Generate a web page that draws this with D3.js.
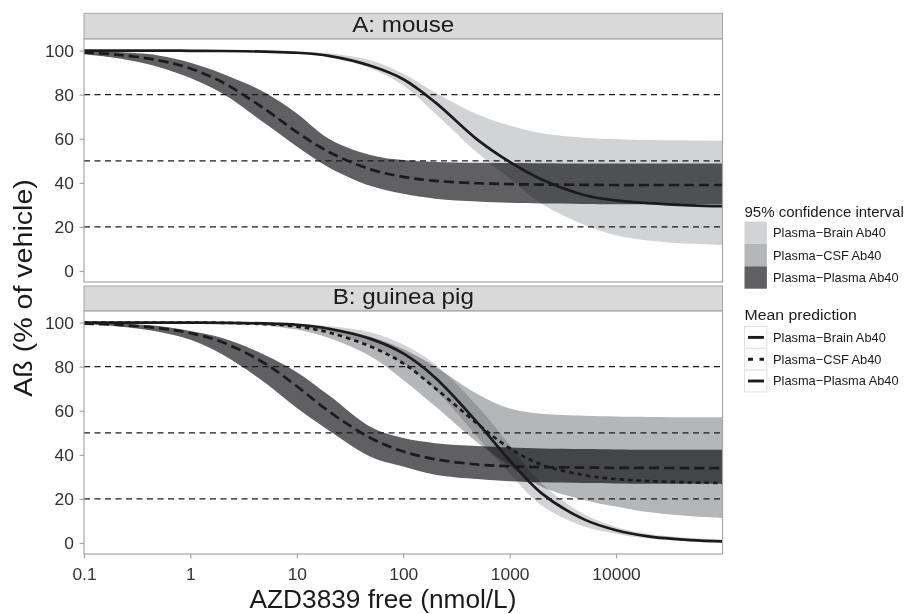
<!DOCTYPE html>
<html><head><meta charset="utf-8">
<script src="https://cdn.jsdelivr.net/npm/d3@7"></script>
<style>body{margin:0;background:#fff} svg{display:block}</style>
</head><body>
<svg id="c" width="908" height="614"></svg>
<script>
// ---- data ----
const conc = [0.1, 0.2, 0.5, 1, 2, 5, 10, 20, 50, 100, 200, 500, 1000, 2000, 5000, 10000, 20000, 50000, 100000];

// A: mouse
const mouseBrainMean  = [100, 100, 100, 99.9, 99.8, 99.5, 99, 97.6, 93, 87, 76.5, 59.5, 49.5, 41.5, 34.5, 32, 30.8, 29.8, 29.4];
const mouseBrainHi    = [100, 100, 100, 100, 100, 99.9, 99.6, 98.8, 95.5, 89.5, 81, 71, 66, 62.5, 60.5, 59.8, 59.4, 59.2, 59.1];
const mouseBrainLo    = [100, 100, 100, 99.9, 99.8, 99.4, 98.8, 97.2, 91.8, 84.2, 71.5, 53.5, 42, 30.5, 21, 16.2, 13.8, 12.3, 11.7];
const mousePlasmaMean = [99.1, 98.2, 95.6, 91.9, 85.6, 73.5, 63, 54, 46, 42.7, 40.9, 39.8, 39.4, 39.2, 39.1, 39.0, 39.0, 39.0, 39.0];
const mousePlasmaHi   = [99.7, 99.3, 97.8, 94.5, 89.5, 81, 71.5, 60, 52.5, 50.3, 49.5, 49.1, 49.0, 48.9, 48.8, 48.8, 48.8, 48.8, 48.8];
const mousePlasmaLo   = [98.3, 96.6, 92.6, 87.5, 80.5, 67, 56.5, 47, 38.5, 35, 32.8, 31.5, 30.9, 30.6, 30.4, 30.3, 30.3, 30.3, 30.3];

// B: guinea pig
const gpBrainMean  = [100, 100, 100, 100, 99.9, 99.6, 99, 97.2, 92.5, 86, 75, 54.5, 37.5, 22.5, 10.7, 5.8, 3.0, 1.3, 0.7];
const gpBrainHi    = [100, 100, 100, 100, 100, 99.8, 99.5, 98.5, 95.5, 90, 81, 62, 44.5, 27, 13, 7.3, 4.2, 2.3, 1.6];
const gpBrainLo    = [100, 100, 100, 100, 99.8, 99.3, 98.3, 95.8, 89.5, 81.5, 69.5, 48, 31.5, 17, 7.5, 4.2, 2.0, 0.8, 0.3];
const gpCsfMean    = [100, 100, 100, 100, 99.9, 99.3, 98.2, 95.5, 89, 81.5, 70.2, 54, 43, 35.5, 30.8, 29, 28.1, 27.5, 27.2];
const gpCsfHi      = [100, 100, 100, 100, 100, 99.7, 99.2, 97.8, 93.5, 88, 80, 67.5, 61, 58.6, 57.7, 57.4, 57.2, 57.1, 57];
const gpCsfLo      = [100, 100, 100, 99.9, 99.6, 98.6, 96.8, 93, 84.5, 74, 62, 45.5, 35, 25.5, 19.5, 16.5, 14, 12.1, 11.3];
const gpPlasmaMean = [99.5, 99.0, 97.5, 95.2, 91.1, 81.5, 71.1, 59.7, 47.5, 41.5, 38.0, 35.6, 34.8, 34.4, 34.2, 34.1, 34.05, 34.0, 34.0];
const gpPlasmaHi   = [99.8, 99.5, 98.5, 96.2, 93, 85.3, 77.5, 67, 52.5, 47.6, 45.3, 44, 43.3, 42.9, 42.6, 42.4, 42.3, 42.3, 42.3];
const gpPlasmaLo   = [99.2, 98.3, 95.8, 92.2, 85.5, 72.8, 61.2, 51, 39, 34.7, 31, 29, 28, 27.5, 27.2, 27, 26.9, 26.9, 26.9];

const yTicks = [0, 20, 40, 60, 80, 100];
const xTicks = [0.1, 1, 10, 100, 1000, 10000];
const xTickLabels = ["0.1", "1", "10", "100", "1000", "10000"];
const refLines = [20, 50, 80];
const panelTitles = ["A: mouse", "B: guinea pig"];
const seriesNames = ["Plasma\u2212Brain Ab40", "Plasma\u2212CSF Ab40", "Plasma\u2212Plasma Ab40"];
const xTitle = "AZD3839 free (nmol/L)";
const yTitle = "A\u00DF (% of vehicle)";
const legendTitles = ["95% confidence interval", "Mean prediction"];

// ---- styles ----
const FONT = "'Liberation Sans', Arial, Helvetica, sans-serif";
const fills = ["#d2d3d5", "#b5b6b8", "#606062"];
const dashes = [null, "4.5,4", "10,5"];
const LINE = "#1c1a1b";

const svg = d3.select("#c");
svg.append("rect").attr("width", 908).attr("height", 614).attr("fill", "#fff");

const X0 = 84, X1 = 722.5;
const x = d3.scaleLog().domain([0.1, 1e5]).range([X0, X1]);
const curve = d3.curveCatmullRom.alpha(0.5);

function txt(g, s, px, py, size, anchor, sx, rot, color) {
  let tr = `translate(${px},${py})`;
  if (rot) tr += ` rotate(${rot})`;
  if (sx && sx !== 1) tr += ` scale(${sx},1)`;
  return g.append("text").attr("transform", tr).attr("text-anchor", anchor || "start")
    .attr("font-family", FONT).attr("font-size", size).attr("fill", color || "#1a1a1a").text(s);
}

function zip(lo, hi) { return conc.map((c, i) => ({c, lo: lo[i], hi: hi[i]})); }
function pts(v) { return conc.map((c, i) => ({c, v: v[i]})); }

const panels = [
  { title: panelTitles[0], stripTop: 13.3, top: 39, bottom: 282,
    bands: [{d: zip(mouseBrainLo, mouseBrainHi), k: 0}, {d: zip(mousePlasmaLo, mousePlasmaHi), k: 2}],
    lines: [{d: pts(mouseBrainMean), k: 0}, {d: pts(mousePlasmaMean), k: 2}] },
  { title: panelTitles[1], stripTop: 286, top: 311, bottom: 554,
    bands: [{d: zip(gpBrainLo, gpBrainHi), k: 0}, {d: zip(gpCsfLo, gpCsfHi), k: 1}, {d: zip(gpPlasmaLo, gpPlasmaHi), k: 2}],
    lines: [{d: pts(gpBrainMean), k: 0}, {d: pts(gpCsfMean), k: 1}, {d: pts(gpPlasmaMean), k: 2}] }
];

panels.forEach((p, pi) => {
  const y = d3.scaleLinear().domain([-5, 105.25]).range([p.bottom, p.top]);
  const g = svg.append("g");
  const cid = "clip" + pi;
  svg.append("clipPath").attr("id", cid).append("rect")
    .attr("x", X0).attr("y", p.top).attr("width", X1 - X0).attr("height", p.bottom - p.top);

  // strip
  g.append("rect").attr("x", X0).attr("y", p.stripTop).attr("width", X1 - X0).attr("height", p.top - p.stripTop)
    .attr("fill", "#d9d9d9").attr("stroke", "#a6a6a6").attr("stroke-width", 1);
  txt(g, p.title, (X0 + X1) / 2, p.top - 7, 22, "middle", 1.1, 0, "#1a1a1a");

  // panel bg
  g.append("rect").attr("x", X0).attr("y", p.top).attr("width", X1 - X0).attr("height", p.bottom - p.top).attr("fill", "#fff");

  const plot = g.append("g").attr("clip-path", `url(#${cid})`);
  const area = d3.area().x(d => x(d.c)).y0(d => y(d.lo)).y1(d => y(d.hi)).curve(curve);
  p.bands.forEach(b => {
    plot.append("path").attr("d", area(b.d)).attr("fill", fills[b.k]).style("mix-blend-mode", "multiply");
  });
  const line = d3.line().x(d => x(d.c)).y(d => y(d.v)).curve(curve);
  p.lines.forEach(l => {
    plot.append("path").attr("d", line(l.d)).attr("fill", "none").attr("stroke", LINE)
      .attr("stroke-width", 2.7).attr("stroke-dasharray", dashes[l.k]);
  });
  refLines.forEach(r => {
    plot.append("line").attr("x1", X0).attr("x2", X1).attr("y1", y(r)).attr("y2", y(r))
      .attr("stroke", "#1a1a1a").attr("stroke-width", 1.3).attr("stroke-dasharray", "6,4.5");
  });

  // border
  g.append("rect").attr("x", X0).attr("y", p.top).attr("width", X1 - X0).attr("height", p.bottom - p.top)
    .attr("fill", "none").attr("stroke", "#a6a6a6").attr("stroke-width", 1.2);

  // y axis
  const ya = d3.axisLeft(y).tickValues(yTicks).tickSize(4.5).tickPadding(5).tickFormat(d3.format("d"));
  const yg = svg.append("g").attr("transform", `translate(${X0},0)`).call(ya);
  yg.select(".domain").remove();
  yg.selectAll(".tick line").attr("stroke", "#a6a6a6").attr("stroke-width", 1.2);
  yg.selectAll(".tick text").attr("font-family", FONT).attr("font-size", 16.3).attr("fill", "#333")
    .attr("x", 0).attr("dy", 0)
    .attr("transform", "translate(-10,5.8) scale(1.07,1)");

  if (pi === 1) {
    const xa = d3.axisBottom(x).tickValues(xTicks).tickSize(4.5).tickPadding(6)
      .tickFormat((d, i) => xTickLabels[i]);
    const xg = svg.append("g").attr("transform", `translate(0,${p.bottom})`).call(xa);
    xg.select(".domain").remove();
    xg.selectAll(".tick line").attr("stroke", "#a6a6a6").attr("stroke-width", 1.2);
    xg.selectAll(".tick text").attr("font-family", FONT).attr("font-size", 16.3).attr("fill", "#333")
      .attr("y", 0).attr("dy", 0).attr("transform", "translate(0,26) scale(1.07,1)");
  }
});

// axis titles
txt(svg, xTitle, 383, 607.5, 25, "middle", 1.05, 0, "#1a1a1a");
txt(svg, yTitle, 32, 288, 26, "middle", 1.1, -90, "#1a1a1a");

// legends
const LX = 744.5;
const lg = svg.append("g");
txt(lg, legendTitles[0], LX, 216.7, 15, "start", 1, 0, "#1a1a1a");
seriesNames.forEach((s, i) => {
  const yy = 221.5 + i * 22.4;
  lg.append("rect").attr("x", LX).attr("y", yy).attr("width", 22.4).attr("height", 22.4).attr("fill", fills[i]);
  txt(lg, s, 773, yy + 15.6, 12.8, "start", 1, 0, "#1a1a1a");
});
txt(lg, legendTitles[1], LX, 320, 15.5, "start", 1.02, 0, "#1a1a1a");
seriesNames.forEach((s, i) => {
  const yy = 326.5 + i * 21.8;
  lg.append("rect").attr("x", LX).attr("y", yy).attr("width", 22.4).attr("height", 21.8)
    .attr("fill", "#fff").attr("stroke", "#e0e0e0").attr("stroke-width", 1);
  lg.append("line").attr("x1", LX + 3.5).attr("x2", LX + 19.5).attr("y1", yy + 10.9).attr("y2", yy + 10.9)
    .attr("stroke", LINE).attr("stroke-width", 2.9)
    .attr("stroke-dasharray", i === 1 ? "5,6.5" : null);
  txt(lg, s, 773, yy + 15.3, 12.8, "start", 1, 0, "#1a1a1a");
});
</script>
</body></html>
